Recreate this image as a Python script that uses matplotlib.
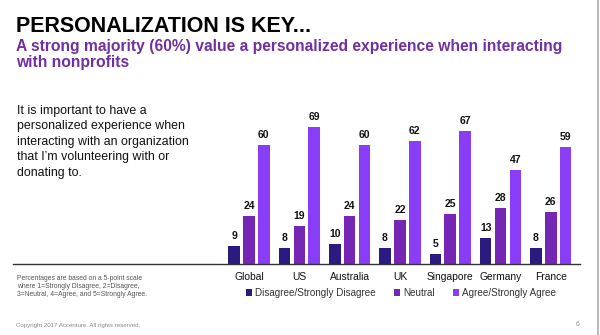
import matplotlib.pyplot as plt
import numpy as np

plt.rcParams['font.family'] = ['Liberation Sans', 'DejaVu Sans']

countries = ['Global', 'US', 'Australia', 'UK', 'Singapore', 'Germany', 'France']
disagree = [9, 8, 10, 8, 5, 13, 8]
neutral = [24, 19, 24, 22, 25, 28, 26]
agree = [60, 69, 60, 62, 67, 47, 59]
series_names = ['Disagree/Strongly Disagree', 'Neutral', 'Agree/Strongly Agree']

colors = ['#2B1B80', '#7526B5', '#8A3DF6']

fig = plt.figure(figsize=(6, 3.35), dpi=100)
W, H = 600, 335

# axes placed in pixel terms of the slide
left_px, right_px, base_px = 13, 580, 264
ax = fig.add_axes([left_px / W, (H - base_px) / H, (right_px - left_px) / W, 160 / H])

spacing = 50.3
x = np.arange(len(countries))
ax.set_xlim(-(249 - left_px) / spacing, (right_px - 249) / spacing)
ax.set_ylim(0, 80.4)

w = 0.23
off = 0.295
for vals, dx, c, name in zip([disagree, neutral, agree], [-off, 0, off], colors, series_names):
    bars = ax.bar(x + dx, vals, w, color=c, label=name)
    for b, v in zip(bars, vals):
        ax.text(b.get_x() + b.get_width() / 2, v + 2.5, str(v), ha='center', va='bottom',
                fontsize=7.5, fontweight='bold', color='#111111')

ax.set_xticks(x)
ax.set_xticklabels(countries, fontsize=7.4, color='#111111')
ax.tick_params(axis='x', length=0, pad=6)
ax.set_yticks([])
for s in ['top', 'right', 'left']:
    ax.spines[s].set_visible(False)
ax.spines['bottom'].set_color('#333333')
ax.spines['bottom'].set_linewidth(1.0)

leg = ax.legend(loc='center', ncol=3, frameon=False, fontsize=7.1,
                handlelength=0.6, handleheight=0.6,
                handletextpad=0.3, columnspacing=1.9)
leg.set_bbox_to_anchor((401 / W, (H - 293) / H), transform=fig.transFigure)
for t in leg.get_texts():
    t.set_color('#333333')

# slide texts
fig.text(16 / W, 1 - 27 / H, 'PERSONALIZATION IS KEY...', fontsize=15.5, fontweight='bold',
         color='#000000', va='center', ha='left')
fig.text(16 / W, 1 - 46 / H, 'A strong majority (60%) value a personalized experience when interacting',
         fontsize=11.25, fontweight='bold', color='#7030A0', va='center', ha='left')
fig.text(16 / W, 1 - 62 / H, 'with nonprofits',
         fontsize=11.25, fontweight='bold', color='#7030A0', va='center', ha='left')

fig.text(17 / W, 1 - 105 / H,
         'It is important to have a\npersonalized experience when\ninteracting with an organization\n'
         'that I\u2019m volunteering with or\ndonating to.',
         fontsize=8.9, color='#111111', va='top', ha='left', linespacing=1.38)

fig.text(17 / W, 1 - 275 / H,
         'Percentages are based on a 5-point scale\nwhere 1=Strongly Disagree, 2=Disagree,\n'
         '3=Neutral, 4=Agree, and 5=Strongly Agree.',
         fontsize=4.9, color='#555555', va='top', ha='left', linespacing=1.2)

fig.text(16 / W, 1 - 326 / H, 'Copyright 2017 Accenture. All rights reserved.',
         fontsize=4.4, color='#888888', va='center', ha='left')
fig.text(578 / W, 1 - 325 / H, '6', fontsize=4.8, color='#888888', va='center', ha='center')

# slide right border
fig.add_artist(plt.Line2D([597.5 / W, 597.5 / W], [0, 1], color='#BBBBBB', lw=1.5,
                          transform=fig.transFigure))

fig.savefig('out.png', dpi=100)
